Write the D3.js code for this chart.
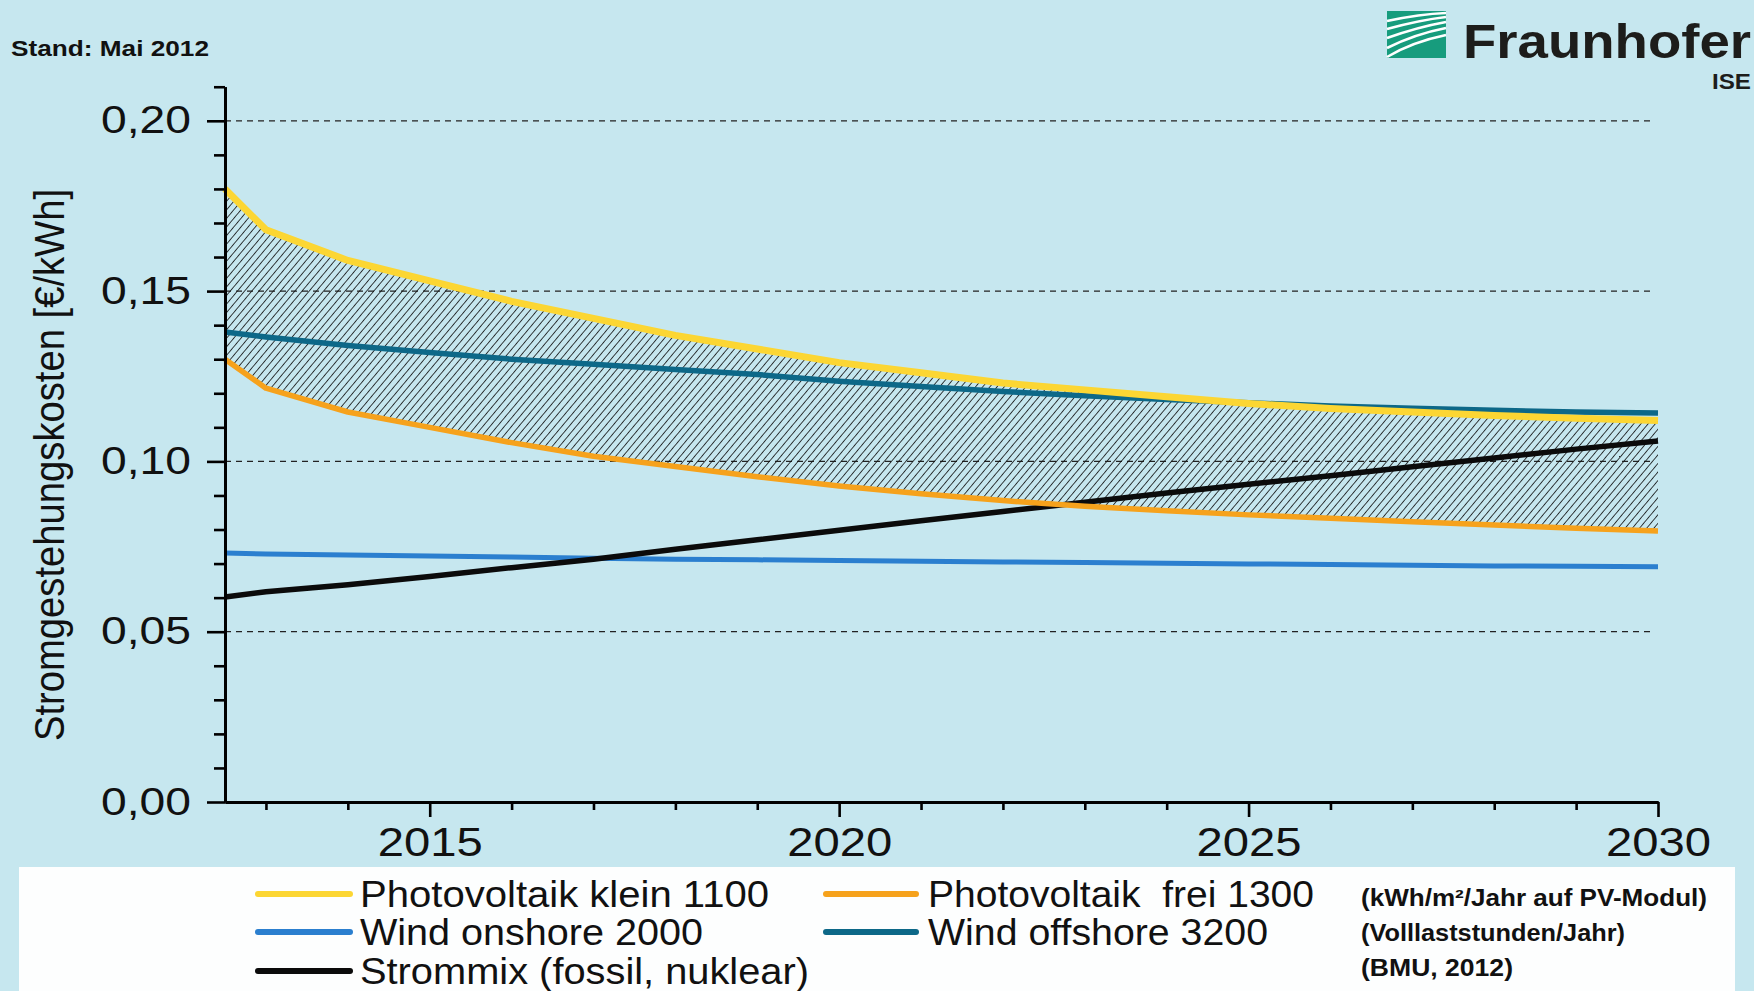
<!DOCTYPE html>
<html><head><meta charset="utf-8">
<script src="https://cdn.jsdelivr.net/npm/d3@7"></script>
<style>
html,body{margin:0;padding:0;background:#c6e7ef;}
svg{display:block;font-family:"Liberation Sans",Arial,sans-serif;}
</style>
</head><body>
<svg id="chart" width="1754" height="991"></svg>
<script>
// ---------- data ----------
const years = [2012.5,2013,2014,2015,2016,2017,2018,2019,2020,2021,2022,2023,2024,2025,2026,2027,2028,2029,2030];
const pvKlein   = [0.180,0.168,0.159,0.153,0.147,0.142,0.137,0.133,0.129,0.126,0.123,0.121,0.119,0.117,0.1155,0.1145,0.1135,0.1127,0.112];
const pvFrei    = [0.130,0.1215,0.1145,0.110,0.1055,0.1015,0.0985,0.0955,0.0928,0.0905,0.0885,0.0868,0.0855,0.0843,0.0833,0.0823,0.0813,0.0804,0.0796];
const windOn    = [0.0731,0.0728,0.0725,0.0722,0.0719,0.0716,0.0713,0.0711,0.0709,0.0707,0.0705,0.0703,0.0701,0.0699,0.0697,0.0695,0.0693,0.0692,0.0691];
const windOff   = [0.138,0.1365,0.134,0.132,0.130,0.1285,0.127,0.1255,0.1235,0.122,0.1205,0.1193,0.1182,0.1172,0.1163,0.1156,0.115,0.1145,0.1142];
const strommix  = [0.0602,0.0617,0.0638,0.0662,0.0688,0.0713,0.0742,0.0770,0.0798,0.0826,0.0853,0.0880,0.0907,0.0933,0.0958,0.0984,0.1010,0.1036,0.1060];

const yMajorTicks = [0, 0.05, 0.10, 0.15, 0.20];
const yMinorTicks = [0.01,0.02,0.03,0.04,0.06,0.07,0.08,0.09,0.11,0.12,0.13,0.14,0.16,0.17,0.18,0.19,0.21];
const yTickLabels = ["0,00","0,05","0,10","0,15","0,20"];
const xMajorTicks = [2015, 2020, 2025, 2030];
const xMinorTicks = [2013,2014,2016,2017,2018,2019,2021,2022,2023,2024,2026,2027,2028,2029];
const xTickLabels = ["2015","2020","2025","2030"];
const gridValues = [0.05, 0.10, 0.15, 0.20];

const yTitle = "Stromgestehungskosten [€/kWh]";
const standText = "Stand: Mai 2012";
const legendItems = [
  {name:"Photovoltaik klein 1100", key:"pvKlein"},
  {name:"Photovoltaik  frei 1300", key:"pvFrei"},
  {name:"Wind onshore 2000", key:"windOn"},
  {name:"Wind offshore 3200", key:"windOff"},
  {name:"Strommix (fossil, nuklear)", key:"strommix"}
];
const legendNotes = ["(kWh/m²/Jahr auf PV-Modul)","(Volllaststunden/Jahr)","(BMU, 2012)"];

// ---------- styles ----------
const colors = {pvKlein:"#fcd633", pvFrei:"#f6a21c", windOn:"#2b7fcf", windOff:"#0d6888", strommix:"#0b0b0b"};
const widths = {pvKlein:7, pvFrei:5.5, windOn:5, windOff:5.5, strommix:5.5};
const seriesData = {pvKlein, pvFrei, windOn, windOff, strommix};

const svg = d3.select("#chart");
const W = 1754, H = 991;
svg.append("rect").attr("width",W).attr("height",H).attr("fill","#c6e7ef");

const x = d3.scaleLinear().domain([2012.5, 2030]).range([225, 1658]);
const y = d3.scaleLinear().domain([0, 0.21]).range([802, 802 - 0.21*3406]);

// hatch pattern
const defs = svg.append("defs");
const pat = defs.append("pattern").attr("id","hatch").attr("patternUnits","userSpaceOnUse")
  .attr("width",5.5).attr("height",5.5).attr("patternTransform","rotate(40)");
pat.append("line").attr("x1",0).attr("y1",-1).attr("x2",0).attr("y2",6.5)
  .attr("stroke","#111").attr("stroke-width",1.6);

// grid lines
svg.append("g").selectAll("line").data(gridValues).join("line")
  .attr("x1", x(2012.5)).attr("x2", 1653)
  .attr("y1", d=>y(d)).attr("y2", d=>y(d))
  .attr("stroke","#222").attr("stroke-width",1.2).attr("stroke-dasharray","6,5");

// hatched area between PV series
const idx = d3.range(years.length);
const area = d3.area().x(i=>x(years[i])).y0(i=>y(pvFrei[i])).y1(i=>y(pvKlein[i]));
svg.append("path").datum(idx).attr("d", area).attr("fill","url(#hatch)");

// lines
const order = ["windOn","strommix","pvFrei","windOff","pvKlein"];
order.forEach(k=>{
  const line = d3.line().x(i=>x(years[i])).y(i=>y(seriesData[k][i]));
  svg.append("path").datum(idx).attr("d", line)
    .attr("fill","none").attr("stroke",colors[k]).attr("stroke-width",widths[k])
    .attr("stroke-linejoin","round");
});

// axes
const yAxisMajor = d3.axisLeft(y).tickValues(yMajorTicks).tickSize(18).tickSizeOuter(0).tickPadding(16)
  .tickFormat((d,i)=>yTickLabels[i]);
const yAxisMinor = d3.axisLeft(y).tickValues(yMinorTicks).tickSize(11).tickSizeOuter(0).tickFormat("");
const xAxisMajor = d3.axisBottom(x).tickValues(xMajorTicks).tickSize(15).tickSizeOuter(0).tickPadding(10)
  .tickFormat((d,i)=>xTickLabels[i]);
const xAxisMinor = d3.axisBottom(x).tickValues(xMinorTicks).tickSize(8).tickSizeOuter(0).tickFormat("");

function styleAxis(g){
  g.select(".domain").attr("stroke","#000").attr("stroke-width",3);
  g.selectAll(".tick line").attr("stroke","#000").attr("stroke-width",2.6);
}
svg.append("g").attr("transform",`translate(${x(2012.5)},0)`).call(yAxisMinor).call(styleAxis);
const gy = svg.append("g").attr("transform",`translate(${x(2012.5)},0)`).call(yAxisMajor).call(styleAxis);
gy.selectAll(".tick text").attr("font-size",38).attr("fill","#111")
  .attr("textLength",90).attr("lengthAdjust","spacingAndGlyphs")
  .attr("font-family","'Liberation Sans',Arial,sans-serif");
svg.append("g").attr("transform",`translate(0,${y(0)})`).call(xAxisMinor).call(styleAxis);
const gx = svg.append("g").attr("transform",`translate(0,${y(0)})`).call(xAxisMajor).call(styleAxis);
gx.selectAll(".tick text").attr("font-size",41).attr("fill","#111")
  .attr("textLength",105).attr("lengthAdjust","spacingAndGlyphs")
  .attr("font-family","'Liberation Sans',Arial,sans-serif");

// y title
svg.append("text").attr("transform","translate(64,465) rotate(-90)")
  .attr("text-anchor","middle").attr("font-size",43).attr("fill","#111")
  .attr("textLength",552).attr("lengthAdjust","spacingAndGlyphs")
  .text(yTitle);

// Stand
svg.append("text").attr("x",11).attr("y",56).attr("font-size",22).attr("font-weight","bold")
  .attr("fill","#111").attr("textLength",198).attr("lengthAdjust","spacingAndGlyphs").text(standText);

// Fraunhofer logo
const logo = svg.append("g");
logo.append("rect").attr("x",1387).attr("y",11).attr("width",59).attr("height",47).attr("fill","#179c7d");
const curves = [
  "M1387,21 Q1420,14 1446,13",
  "M1387,29 Q1420,20 1446,17",
  "M1387,38 Q1418,27 1446,22",
  "M1387,48 Q1415,34 1446,28",
  "M1387,57 Q1412,42 1446,35"
];
logo.selectAll("path").data(curves).join("path").attr("d",d=>d)
  .attr("fill","none").attr("stroke","#fff").attr("stroke-width",2.6);
logo.append("text").attr("x",1463).attr("y",58).attr("font-size",48).attr("font-weight","bold")
  .attr("fill","#1d1d1b").attr("textLength",288).attr("lengthAdjust","spacingAndGlyphs").text("Fraunhofer");
logo.append("text").attr("x",1751).attr("y",89).attr("text-anchor","end").attr("font-size",22)
  .attr("font-weight","bold").attr("fill","#1d1d1b")
  .attr("textLength",39).attr("lengthAdjust","spacingAndGlyphs").text("ISE");

// legend
svg.append("rect").attr("x",19).attr("y",867).attr("width",1716).attr("height",130).attr("fill","#fdfefe");
const legendPos = [
  {lx1:258, lx2:350, tx:360, ty:894, tl:409},
  {lx1:826, lx2:916, tx:928, ty:894, tl:386},
  {lx1:258, lx2:350, tx:360, ty:932, tl:343},
  {lx1:826, lx2:916, tx:928, ty:932, tl:340},
  {lx1:258, lx2:350, tx:360, ty:971, tl:449}
];
const lg = svg.append("g");
legendItems.forEach((it,i)=>{
  const p = legendPos[i];
  lg.append("line").attr("x1",p.lx1).attr("x2",p.lx2).attr("y1",p.ty).attr("y2",p.ty)
    .attr("stroke",colors[it.key]).attr("stroke-width",6).attr("stroke-linecap","round");
  lg.append("text").attr("x",p.tx).attr("y",p.ty).attr("dy","0.36em").attr("font-size",37)
    .attr("fill","#111").attr("textLength",p.tl).attr("lengthAdjust","spacingAndGlyphs")
    .style("white-space","pre").text(it.name);
});
const notePos = [{y:898,tl:346},{y:933,tl:264},{y:968,tl:152}];
legendNotes.forEach((t,i)=>{
  lg.append("text").attr("x",1361).attr("y",notePos[i].y).attr("dy","0.36em").attr("font-size",23)
    .attr("font-weight","bold").attr("fill","#111")
    .attr("textLength",notePos[i].tl).attr("lengthAdjust","spacingAndGlyphs").text(t);
});
</script>
</body></html>
